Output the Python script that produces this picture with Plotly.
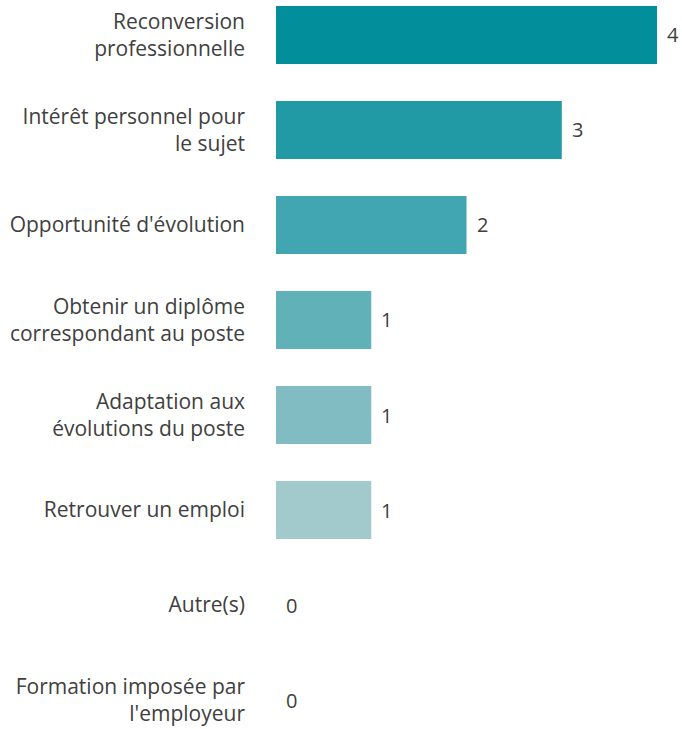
import plotly.graph_objects as go

categories = [
    "Reconversion<br>professionnelle",
    "Intérêt personnel pour<br>le sujet",
    "Opportunité d'évolution",
    "Obtenir un diplôme<br>correspondant au poste",
    "Adaptation aux<br>évolutions du poste",
    "Retrouver un emploi",
    "Autre(s)",
    "Formation imposée par<br>l'employeur",
]
values = [4, 3, 2, 1, 1, 1, 0, 0]
colors = ["#028e9a", "#229aa5", "#41a6b1", "#60b1b8", "#80bcc2", "#a2c9cb", "#bfd6d8", "#d5e3e4"]

text_color = "#404040"
font_family = "Open Sans, Noto Sans, sans-serif"

fig = go.Figure(
    go.Bar(
        x=values,
        y=categories,
        orientation="h",
        marker=dict(color=colors, line=dict(width=0)),
        width=0.61,
        hoverinfo="x+y",
    )
)

for c, v in zip(categories, values):
    fig.add_annotation(
        x=v, y=c, text=str(v), showarrow=False,
        xanchor="left", yanchor="middle", xshift=8,
        font=dict(color=text_color, size=20, family=font_family),
    )

fig.update_layout(
    width=682,
    height=729,
    margin=dict(l=276, r=0, t=0, b=0),
    paper_bgcolor="white",
    plot_bgcolor="white",
    showlegend=False,
    font=dict(family=font_family, color=text_color, size=21),
)
fig.update_xaxes(range=[0, 4.262], visible=False)
fig.update_yaxes(
    type="category",
    range=[7.305, -0.368],
    showgrid=False,
    zeroline=False,
    showline=False,
    ticks="",
    ticklabelstandoff=30,
    tickfont=dict(size=21, color=text_color, family=font_family),
)

fig.write_html(
    "out.html",
    config={"displayModeBar": False},
    post_script="document.body.style.margin='0';document.body.style.overflow='hidden';",
)
